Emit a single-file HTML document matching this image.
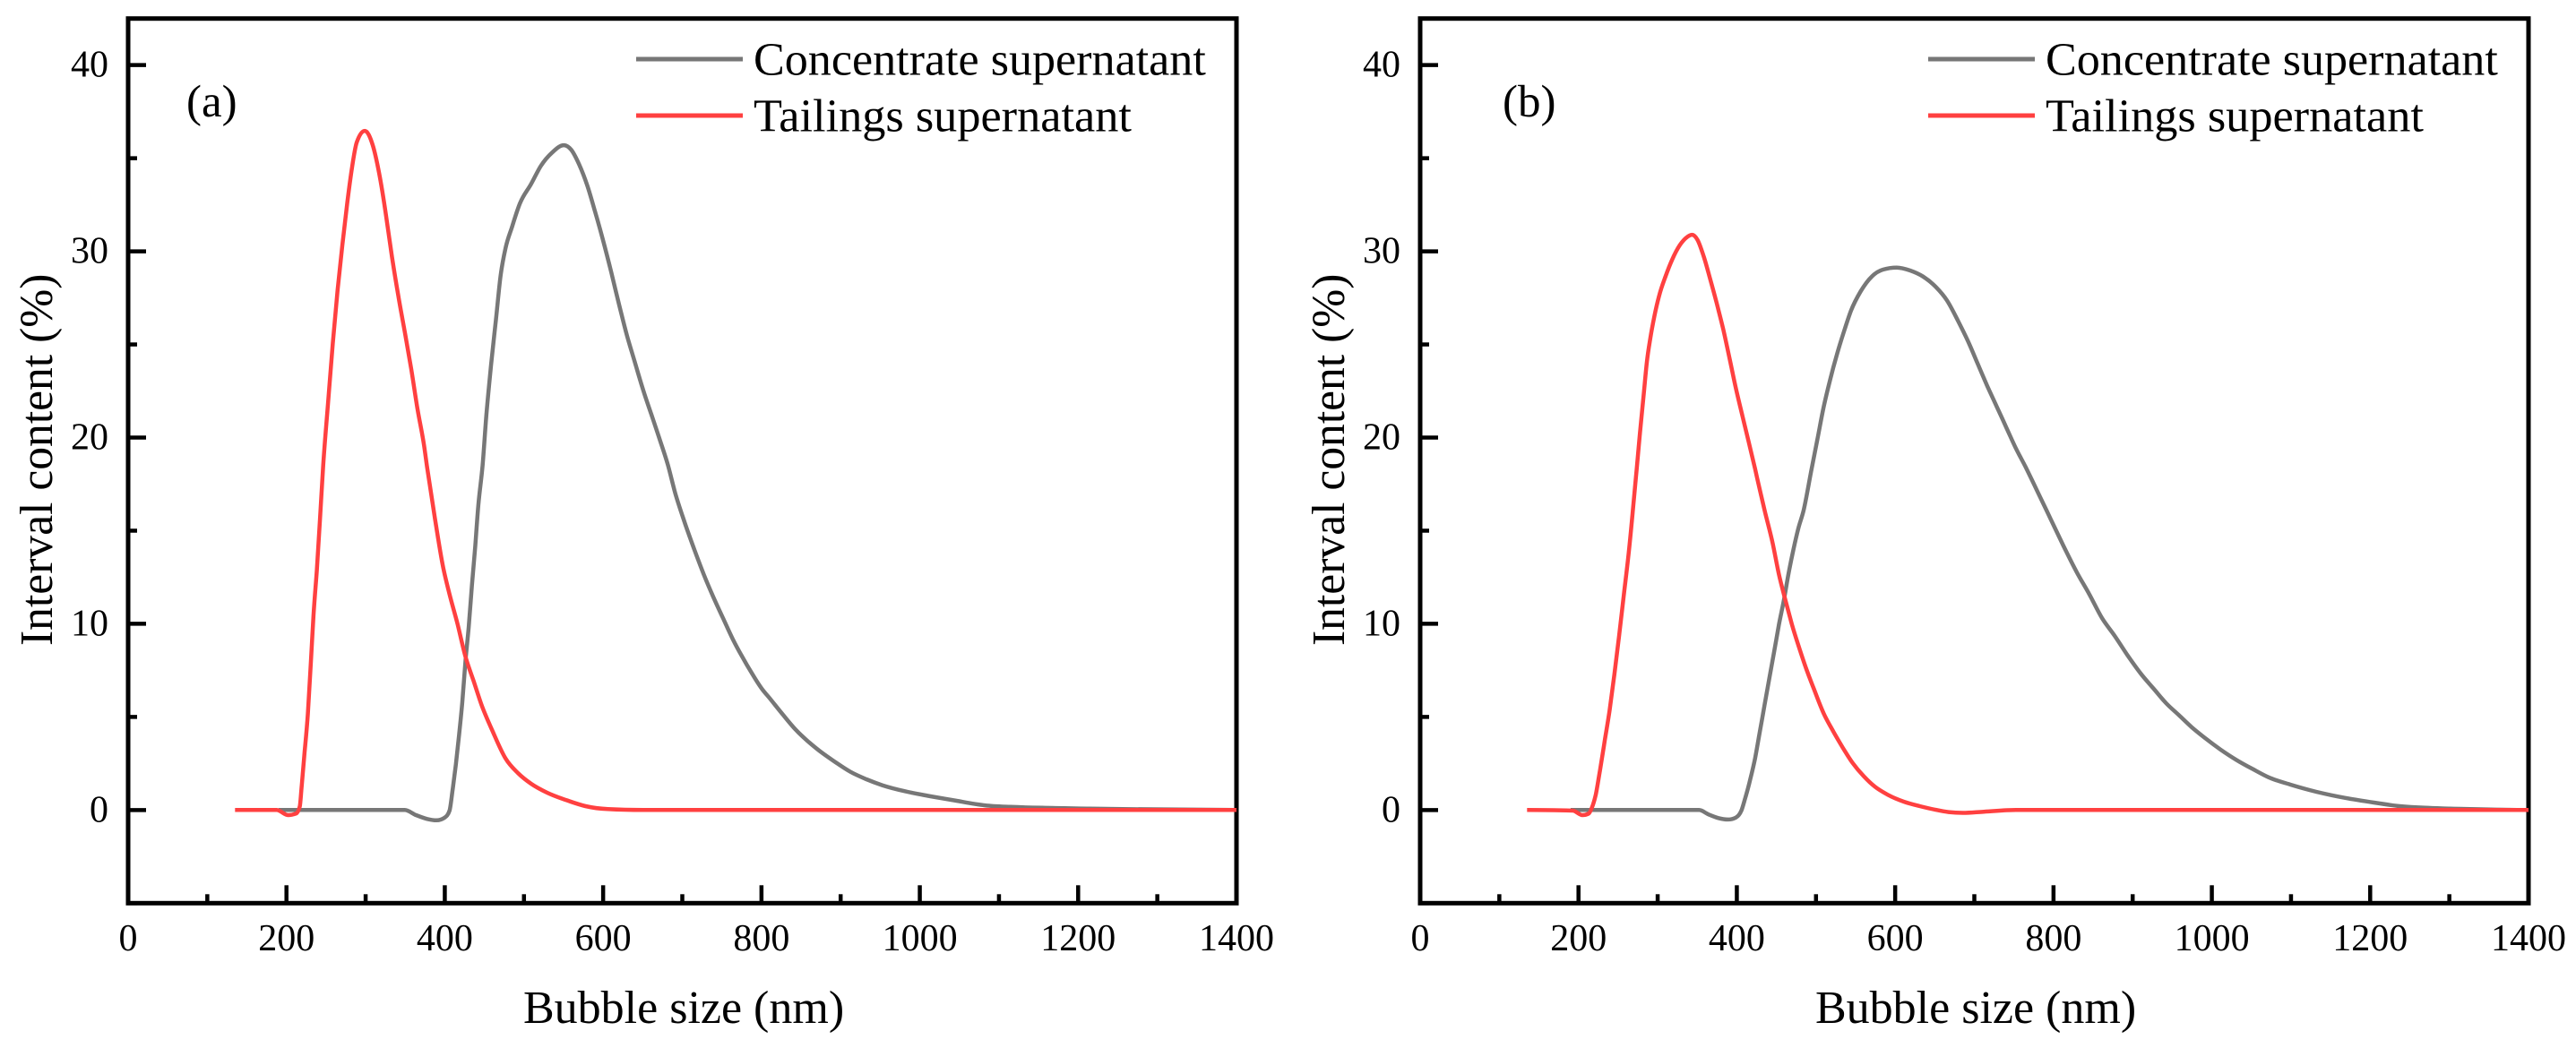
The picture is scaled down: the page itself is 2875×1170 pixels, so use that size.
<!DOCTYPE html>
<html lang="en">
<head>
<meta charset="utf-8">
<title>Bubble size distribution</title>
<style>
html,body{margin:0;padding:0;background:#fff;width:2875px;height:1170px;overflow:hidden}
svg{display:block}
text{font-family:"Liberation Serif","Times New Roman",serif;fill:#000}
</style>
</head>
<body>
<svg id="figure" xmlns="http://www.w3.org/2000/svg" width="2875" height="1170" viewBox="0 0 2875 1170"></svg>
<script>
const xMajorTicks = [0, 200, 400, 600, 800, 1000, 1200, 1400];
const xMinorTicks = [100, 300, 500, 700, 900, 1100, 1300];
const yMajorTicks = [0, 10, 20, 30, 40];
const yMinorTicks = [-5, 5, 15, 25, 35];
const seriesNames = ["Concentrate supernatant", "Tailings supernatant"];

const concentrateAX = [190,349.4,363.6,377.7,389.8,400,406,410.1,414,418.1,422.2,426.2,430.2,434.3,438.4,442.4,447.7,452.5,458.5,464.6,470.6,476.7,484.8,494.9,509.1,521.2,535.4,550.3,559.6,569.7,579.9,590,600,610.1,620.2,630.3,640.4,650.5,660.6,670.7,682,691,703.1,715.2,727.3,739.4,751.5,763.7,775.8,787.9,800,811.4,827.5,843.7,859.8,876,892.1,912.4,932.6,952.8,981.1,1013.5,1045.8,1082.2,1114.5,1154.9,1215.3,1256,1400];
const concentrateAY = [0,0,-0.27,-0.48,-0.55,-0.4,-0.03,1.17,2.45,4.05,5.82,8.06,9.82,12.07,14.15,16.39,18.5,21.2,23.92,26.33,28.73,30.17,31.3,32.58,33.62,34.58,35.3,35.7,35.46,34.66,33.54,32.1,30.58,28.9,27.13,25.45,24,22.56,21.28,20,18.5,17.03,15.43,13.99,12.63,11.42,10.3,9.18,8.22,7.34,6.54,5.95,5.1,4.29,3.65,3.09,2.61,2.05,1.65,1.33,1.01,0.74,0.5,0.25,0.17,0.12,0.08,0.05,0];
const tailingsAX = [135,187.7,201.9,212.1,216.8,219.3,222.9,227,231,234.2,238.3,242.3,246.4,252.5,258.5,264.6,270.6,276.7,282.8,288.8,298.9,309,317.1,325.2,333.3,341.3,349.4,357.5,365.6,373.7,377.7,387.8,397.9,406,416.1,426.2,436.3,446.4,460.6,476.7,492.8,509.1,529.3,553.5,577.8,606,650.5,1400];
const tailingsAY = [0,0,-0.27,-0.19,0.2,1.33,3.09,5.17,8.06,10.46,12.87,15.59,18.5,21.84,25.05,27.93,30.34,32.58,34.5,35.86,36.47,35.7,34.18,32.1,29.69,27.6,25.69,23.7,21.52,19.6,18.4,15.6,13.03,11.59,9.98,8.22,6.94,5.65,4.21,2.77,1.97,1.41,0.93,0.53,0.21,0.05,0,0];

const concentrateBX = [190,352.3,364.4,376.6,388.7,398.8,405.7,410.9,417,423,429.1,435.1,441.2,447.3,453.3,459.4,465.4,471.5,477.6,484.4,493.7,501.8,509.9,518,526,534.1,544.2,556.4,570.5,584.6,602,619,635.1,651.3,665.4,679.6,691.7,703.9,716,728.1,740.2,752.3,764.5,780.6,796.8,813,829.1,845.2,861.4,877.5,893.7,909.9,926,942.2,958.3,974.5,990.7,1010.9,1031,1051.3,1071.5,1099.8,1132.1,1168.5,1204.8,1237.2,1269.4,1301.8,1400];
const concentrateBY = [0,0,-0.24,-0.43,-0.51,-0.4,-0.03,0.69,1.65,2.77,4.21,5.65,7.1,8.54,9.98,11.26,12.71,13.99,15.11,16.1,18.15,19.92,21.68,23.13,24.4,25.53,26.81,27.85,28.65,29.02,29.13,28.97,28.65,28.09,27.37,26.25,25.2,24,22.8,21.68,20.56,19.44,18.44,17.03,15.59,14.15,12.79,11.59,10.3,9.34,8.3,7.34,6.54,5.74,5.1,4.45,3.89,3.25,2.69,2.21,1.76,1.36,0.98,0.65,0.4,0.21,0.12,0.08,0];
const tailingsBX = [135,192.8,204.9,212.9,217,221.9,227.1,233.2,239.2,245.3,251.3,257.4,263.5,268.7,273.5,277.6,282.4,286.4,290.9,295.7,301.8,309.9,318,328.1,336.1,343.5,350.3,358.4,366.5,374.6,382.6,390.8,398.8,406.9,415,423,429.1,435.1,445.3,453.3,461.4,469.5,477.6,487.7,497.7,509.9,522,534.1,546.2,560.4,574.6,590.7,610.9,631.1,651.3,667.5,685.7,712,752.3,1400];
const tailingsBY = [0,-0.03,-0.27,-0.19,0.13,0.85,2.13,3.73,5.34,7.26,9.34,11.59,13.83,16.1,18.32,20.24,22.32,24.09,25.37,26.49,27.61,28.65,29.53,30.34,30.73,30.89,30.62,29.69,28.49,27.21,25.85,24.25,22.64,21.2,19.76,18.32,17.19,16.1,14.31,12.63,11.26,9.98,8.86,7.58,6.46,5.17,4.21,3.33,2.53,1.81,1.25,0.82,0.45,0.21,0.01,-0.11,-0.15,-0.09,0,0];

const SVG_NS = "http://www.w3.org/2000/svg";
const figure = document.getElementById("figure");
const plotLeft = 143, plotRight = 1380, plotTop = 20.7, plotBottom = 1008.3;
const xMin = 0, xMax = 1400, yMin = -5, yMax = 42.5;
const grayColor = "#777777", redColor = "#ff4040";

function xScale(v, off) { return off + plotLeft + (v - xMin) / (xMax - xMin) * (plotRight - plotLeft); }
function yScale(v) { return plotBottom - (v - yMin) / (yMax - yMin) * (plotBottom - plotTop); }

function make(parent, tag, attrs, text) {
  const el = document.createElementNS(SVG_NS, tag);
  for (const k in attrs) el.setAttribute(k, attrs[k]);
  if (text !== undefined) el.textContent = text;
  parent.appendChild(el);
  return el;
}

function smoothPath(xs, ys, off) {
  const px = xs.map(function (v) { return xScale(v, off); });
  const py = ys.map(function (v) { return yScale(v); });
  const n = px.length;
  const slopes = new Array(n).fill(0);
  for (let i = 1; i < n - 1; i++) {
    const h0 = px[i] - px[i - 1], h1 = px[i + 1] - px[i];
    const s0 = (py[i] - py[i - 1]) / h0, s1 = (py[i + 1] - py[i]) / h1;
    const p = (s0 * h1 + s1 * h0) / (h0 + h1);
    slopes[i] = (Math.sign(s0) + Math.sign(s1)) * Math.min(Math.abs(s0), Math.abs(s1), 0.5 * Math.abs(p));
  }
  let d = "M" + px[0].toFixed(1) + " " + py[0].toFixed(1);
  for (let i = 0; i < n - 1; i++) {
    const dx = (px[i + 1] - px[i]) / 3;
    d += "C" + (px[i] + dx).toFixed(1) + " " + (py[i] + slopes[i] * dx).toFixed(1) + " " +
      (px[i + 1] - dx).toFixed(1) + " " + (py[i + 1] - slopes[i + 1] * dx).toFixed(1) + " " +
      px[i + 1].toFixed(1) + " " + py[i + 1].toFixed(1);
  }
  return d;
}

function drawPanel(panelName, off, labelText, labelX, grayX, grayY, redX, redY) {
  const g = make(figure, "g", {});
  
  

  const frame = make(g, "rect", {x: off + plotLeft, y: plotTop, width: plotRight - plotLeft, height: plotBottom - plotTop, fill: "none", stroke: "#000", "stroke-width": 5});
  
  

  xMajorTicks.forEach(function (v) {
    const t = make(g, "line", {x1: xScale(v, off), x2: xScale(v, off), y1: plotBottom, y2: plotBottom - 20, stroke: "#000", "stroke-width": 4.5});
    
    
    const l = make(g, "text", {x: xScale(v, off), y: 1061, "font-size": 42, "text-anchor": "middle"}, String(v));
    
    
  });
  xMinorTicks.forEach(function (v) {
    const t = make(g, "line", {x1: xScale(v, off), x2: xScale(v, off), y1: plotBottom, y2: plotBottom - 10, stroke: "#000", "stroke-width": 4.5});
    
    
  });
  yMajorTicks.forEach(function (v) {
    const t = make(g, "line", {x1: off + plotLeft, x2: off + plotLeft + 20, y1: yScale(v), y2: yScale(v), stroke: "#000", "stroke-width": 4.5});
    
    
    const l = make(g, "text", {x: off + 121, y: yScale(v) + 13, "font-size": 42, "text-anchor": "end"}, String(v));
    
    
  });
  yMinorTicks.forEach(function (v) {
    const t = make(g, "line", {x1: off + plotLeft, x2: off + plotLeft + 10, y1: yScale(v), y2: yScale(v), stroke: "#000", "stroke-width": 4.5});
    
    
  });

  const xTitle = make(g, "text", {x: off + 584, y: 1142, "font-size": 52}, "Bubble size (nm)");
  
  

  const yTitle = make(g, "text", {transform: "translate(" + (off + 58) + ",721) rotate(-90)", "font-size": 51.6}, "Interval content (%)");
  
  

  const panelLabel = make(g, "text", {x: labelX, y: 130, "font-size": 51}, labelText);
  
  

  const grayLine = make(g, "path", {d: smoothPath(grayX, grayY, off), fill: "none", stroke: grayColor, "stroke-width": 4.5, "stroke-linejoin": "round"});
  
  

  const redLine = make(g, "path", {d: smoothPath(redX, redY, off), fill: "none", stroke: redColor, "stroke-width": 4.5, "stroke-linejoin": "round"});
  
  

  const swatch1 = make(g, "line", {x1: off + 710, x2: off + 829, y1: 66, y2: 66, stroke: grayColor, "stroke-width": 5});
  
  
  const legend1 = make(g, "text", {x: off + 841, y: 83.5, "font-size": 52.1}, seriesNames[0]);
  
  

  const swatch2 = make(g, "line", {x1: off + 710, x2: off + 829, y1: 129, y2: 129, stroke: redColor, "stroke-width": 5});
  
  
  const legend2 = make(g, "text", {x: off + 841, y: 146.5, "font-size": 52.3}, seriesNames[1]);
  
  
}

drawPanel("panel-a", 0, "(a)", 208, concentrateAX, concentrateAY, tailingsAX, tailingsAY);
drawPanel("panel-b", 1442, "(b)", 1677, concentrateBX, concentrateBY, tailingsBX, tailingsBY);
</script>
</body>
</html>
